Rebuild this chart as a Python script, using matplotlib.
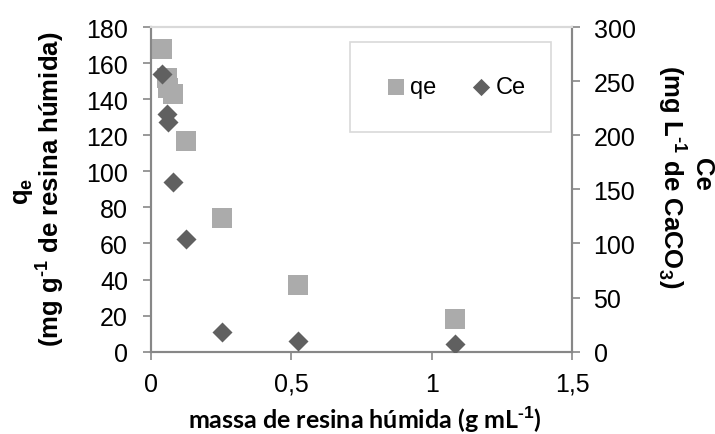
import matplotlib
matplotlib.use("Agg")
import matplotlib.pyplot as plt
from matplotlib.patches import Rectangle
from matplotlib.ticker import FuncFormatter

# massa de resina (g/mL) e resultados do ensaio
massa = [0.040, 0.056, 0.062, 0.079, 0.124, 0.253, 0.522, 1.084]
qe = [168, 152, 146, 143, 117, 74, 37, 18]
ce = [257, 220, 212, 157, 104, 18, 10, 7]

x_ticks = [0, 0.5, 1, 1.5]
qe_ticks = [0, 20, 40, 60, 80, 100, 120, 140, 160, 180]
ce_ticks = [0, 50, 100, 150, 200, 250, 300]

plt.rcParams['font.family'] = ['Liberation Sans', 'DejaVu Sans']
# só os índices dos títulos usam mathtext, todos em negrito
plt.rcParams['mathtext.fontset'] = 'custom'
plt.rcParams['mathtext.rm'] = 'Liberation Sans:bold'
plt.rcParams['mathtext.bf'] = 'Liberation Sans:bold'

SPINE = '#878787'
LIGHT = '#d9d9d9'
COR_QE = '#ababab'
COR_CE = '#606060'

fig = plt.figure(figsize=(7.15, 4.35), dpi=100)
ax = fig.add_axes([0.2112, 0.1892, 0.5888, 0.7464])
ax2 = ax.twinx()

ax.scatter(massa, qe, marker='s', s=14.4 ** 2, color=COR_QE, linewidths=0,
           label='qe', zorder=3)
ax2.scatter(massa, ce, marker='D', s=10.2 ** 2, color=COR_CE, linewidths=0,
            label='Ce', zorder=3)

ax.set_xlim(x_ticks[0], x_ticks[-1])
ax.set_ylim(qe_ticks[0], qe_ticks[-1])
ax2.set_ylim(ce_ticks[0], ce_ticks[-1])
ax.set_xticks(x_ticks)
ax.set_yticks(qe_ticks)
ax2.set_yticks(ce_ticks)
ax.xaxis.set_major_formatter(FuncFormatter(lambda v, p: ('%g' % v).replace('.', ',')))

for a in (ax, ax2):
    for s in a.spines.values():
        s.set_color(SPINE)
        s.set_linewidth(1.5)
    a.spines['top'].set_color(LIGHT)
    a.tick_params(length=5.5, width=1.2, color=SPINE, labelsize=18)
ax.tick_params(axis='y', pad=11)
ax.tick_params(axis='x', pad=9)
ax2.tick_params(axis='y', pad=10)

# títulos dos eixos
fig.text(0.51, 0.035, 'massa de resina húmida (g mL$^{\\text{-1}}$)', family='Lato',
         fontweight='bold', fontsize=18, ha='center', va='center')
fig.text(0.032, 0.56, 'q$_{\\text{e}}$', rotation=90, ha='center', va='center',
         fontsize=18.5, fontweight='bold')
fig.text(0.07, 0.565, '(mg g$^{\\text{-1}}$ de resina húmida)', rotation=90,
         ha='center', va='center', fontsize=18.5, fontweight='bold')
fig.text(0.982, 0.60, 'Ce', rotation=270, ha='center', va='center',
         fontsize=18.5, fontweight='bold')
fig.text(0.941, 0.593, '(mg L$^{\\text{-1}}$ de CaCO$_{\\text{3}}$)', rotation=270,
         ha='center', va='center', fontsize=18.5, fontweight='bold')

# caixa da legenda
ax2.add_patch(Rectangle((0.4727, 0.6766), 0.4774, 0.277, transform=ax2.transAxes,
                        facecolor='white', edgecolor=LIGHT, linewidth=1.2, zorder=1))
h1, l1 = ax.get_legend_handles_labels()
h2, l2 = ax2.get_legend_handles_labels()
leg = ax2.legend(h1 + h2, l1 + l2, loc='center', bbox_to_anchor=(0.722, 0.815), ncol=2,
                 frameon=False, fontsize=17, handletextpad=0.1,
                 columnspacing=1.4, handlelength=1.0, borderpad=0)
leg.legend_handles[0].set_sizes([12.2 ** 2])
leg.legend_handles[1].set_sizes([8.8 ** 2])

fig.savefig('out.png', dpi=100)
